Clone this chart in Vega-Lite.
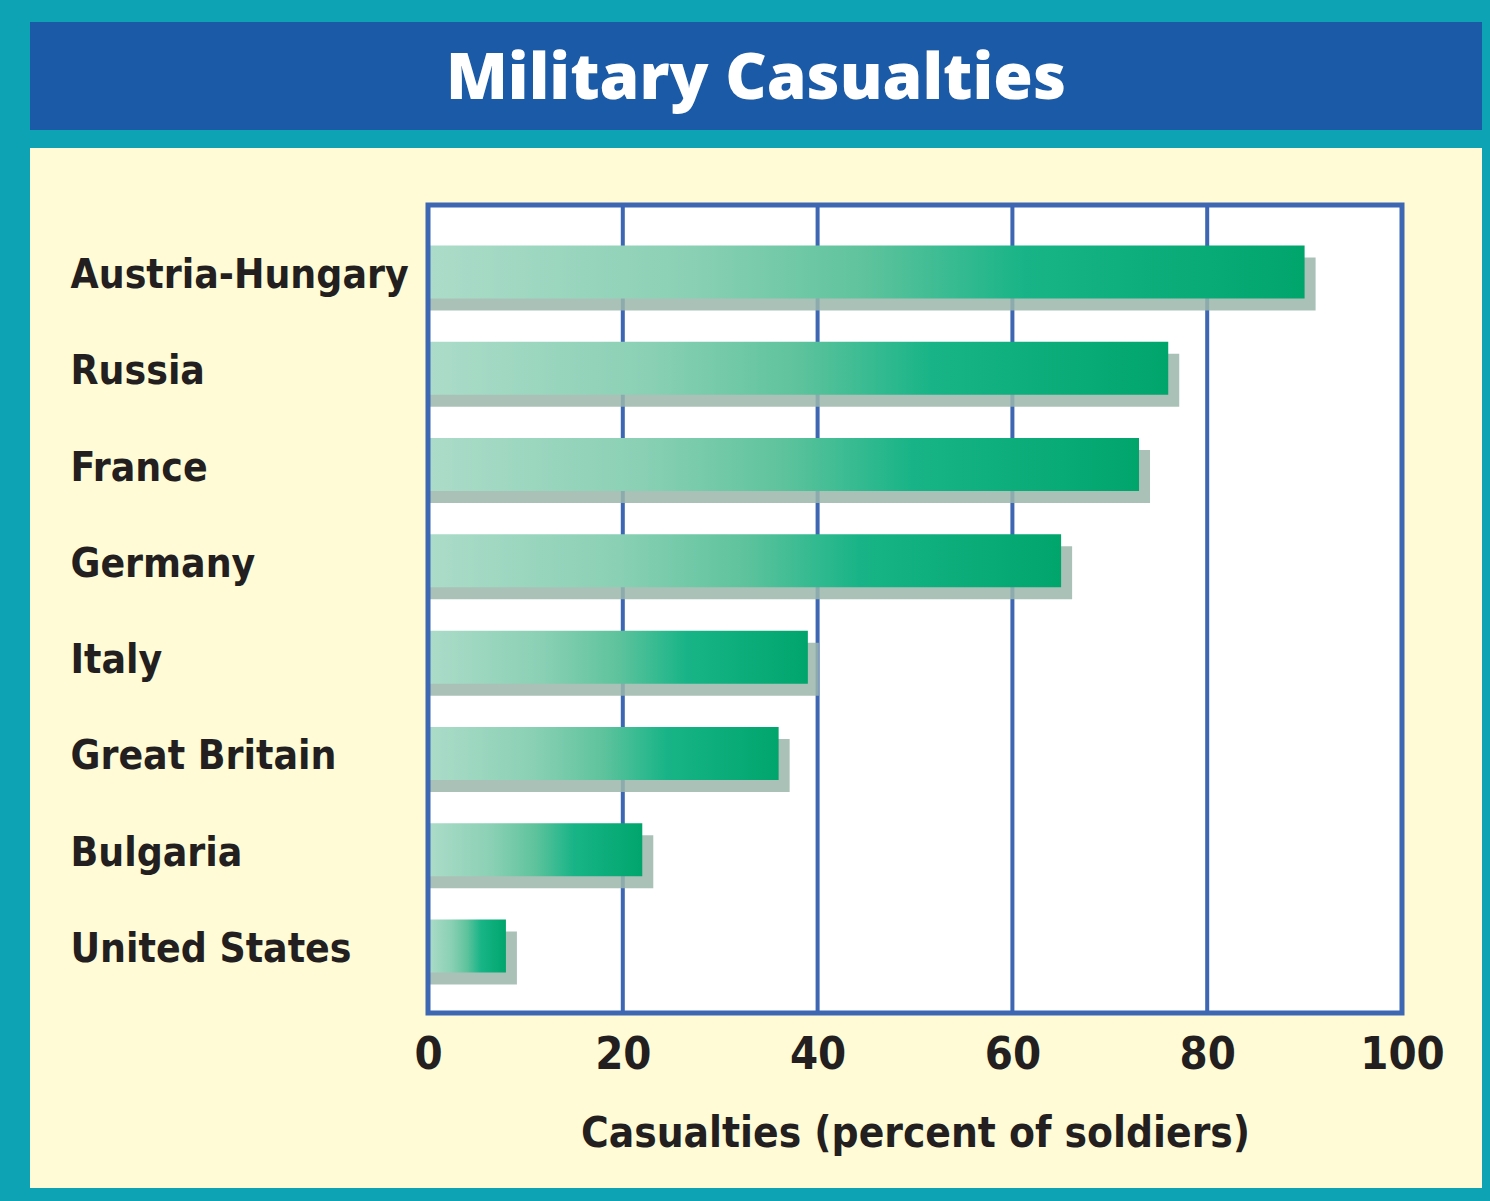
{
  "$schema": "https://vega.github.io/schema/vega-lite/v6.json",
  "background": "#0ea2b5",
  "padding": {"left": 30, "top": 22, "right": 8, "bottom": 13},
  "spacing": 18,
  "config": {"view": {"stroke": null}},
  "datasets": {
    "heading": [{"heading": "Military Casualties"}],
    "casualties": [
      {"country": "Austria-Hungary", "pct": 90},
      {"country": "Russia", "pct": 76},
      {"country": "France", "pct": 73},
      {"country": "Germany", "pct": 65},
      {"country": "Italy", "pct": 39},
      {"country": "Great Britain", "pct": 36},
      {"country": "Bulgaria", "pct": 22},
      {"country": "United States", "pct": 8}
    ],
    "ticks": [{"tick": 20}, {"tick": 40}, {"tick": 60}, {"tick": 80}],
    "frame": [{}]
  },
  "vconcat": [
    {
      "width": 1452,
      "height": 108,
      "view": {"fill": "#1b5aa7", "stroke": null},
      "data": {"name": "heading"},
      "mark": {"type": "text", "color": "white", "font": "Open Sans", "fontWeight": 800, "fontSize": 64, "baseline": "middle", "align": "center", "dy": 4},
      "encoding": {
        "x": {"field": "heading", "type": "nominal", "axis": null},
        "y": {"field": "heading", "type": "nominal", "axis": null},
        "text": {"field": "heading"}
      }
    },
    {
      "width": 1452,
      "height": 1040,
      "view": {"fill": "#fffbd7", "stroke": null},
      "resolve": {"scale": {"y": "independent"}, "axis": {"x": "independent", "y": "independent"}},
      "layer": [
        {
          "data": {"name": "frame"},
          "mark": {"type": "rect", "fill": "#ffffff"},
          "encoding": {
            "x": {"datum": 0, "type": "quantitative", "scale": {"domain": [0, 100], "range": [398, 1372], "nice": false, "zero": true}, "axis": null},
            "x2": {"datum": 100},
            "y": {"datum": 0, "type": "quantitative", "scale": {"domain": [0, 1], "range": [57, 865]}, "axis": null},
            "y2": {"datum": 1}
          }
        },
        {
          "data": {"name": "ticks"},
          "mark": {"type": "rule", "color": "#3d66b3", "strokeWidth": 4},
          "encoding": {
            "x": {"field": "tick", "type": "quantitative", "axis": null},
            "y": {"datum": 0, "type": "quantitative", "scale": {"domain": [0, 1], "range": [57, 865]}, "axis": null},
            "y2": {"datum": 1}
          }
        },
        {
          "data": {"name": "casualties"},
          "mark": {"type": "bar", "color": "#9bb6ab", "opacity": 0.85, "xOffset": 11, "yOffset": 12},
          "encoding": {
            "y": {"field": "country", "type": "nominal", "sort": null, "scale": {"range": [57, 865], "paddingInner": 0.45, "paddingOuter": 0.42}, "axis": null},
            "x": {"field": "pct", "type": "quantitative", "axis": null},
            "x2": {"datum": 0}
          }
        },
        {
          "data": {"name": "casualties"},
          "mark": {
            "type": "bar",
            "color": {
              "gradient": "linear", "x1": 0, "y1": 0, "x2": 1, "y2": 0,
              "stops": [
                {"offset": 0, "color": "#acdcc9"},
                {"offset": 0.3, "color": "#8ad0b5"},
                {"offset": 0.5, "color": "#5ec39d"},
                {"offset": 0.68, "color": "#18b487"},
                {"offset": 1, "color": "#00a56c"}
              ]
            }
          },
          "encoding": {
            "y": {
              "field": "country", "type": "nominal", "sort": null,
              "scale": {"range": [57, 865], "paddingInner": 0.45, "paddingOuter": 0.42},
              "axis": {
                "title": null, "orient": "left", "offset": -40, "domain": false, "ticks": false, "grid": false,
                "labelPadding": 0, "labelAlign": "left", "labelBaseline": "middle", "labelOffset": 4,
                "labelFont": "DejaVu Sans Condensed, sans-serif",
                "labelFontWeight": "bold", "labelFontSize": 40.5, "labelColor": "#231f20", "labelLimit": 0
              }
            },
            "x": {
              "field": "pct", "type": "quantitative",
              "axis": {
                "title": "Casualties (percent of soldiers)", "orient": "bottom", "offset": -175,
                "values": [0, 20, 40, 60, 80, 100], "format": "d",
                "grid": false, "domain": false, "ticks": false,
                "labelPadding": 19, "labelFlush": false,
                "labelFont": "DejaVu Sans Condensed, sans-serif",
                "labelFontWeight": "bold", "labelFontSize": 45, "labelColor": "#231f20",
                "titleFont": "DejaVu Sans Condensed, sans-serif",
                "titleFontWeight": "bold", "titleFontSize": 42, "titleColor": "#231f20", "titlePadding": 36
              }
            },
            "x2": {"datum": 0}
          }
        },
        {
          "data": {"name": "frame"},
          "mark": {"type": "rect", "filled": false, "stroke": "#3d66b3", "strokeWidth": 5},
          "encoding": {
            "x": {"datum": 0, "type": "quantitative", "axis": null},
            "x2": {"datum": 100},
            "y": {"datum": 0, "type": "quantitative", "scale": {"domain": [0, 1], "range": [57, 865]}, "axis": null},
            "y2": {"datum": 1}
          }
        }
      ]
    }
  ]
}
